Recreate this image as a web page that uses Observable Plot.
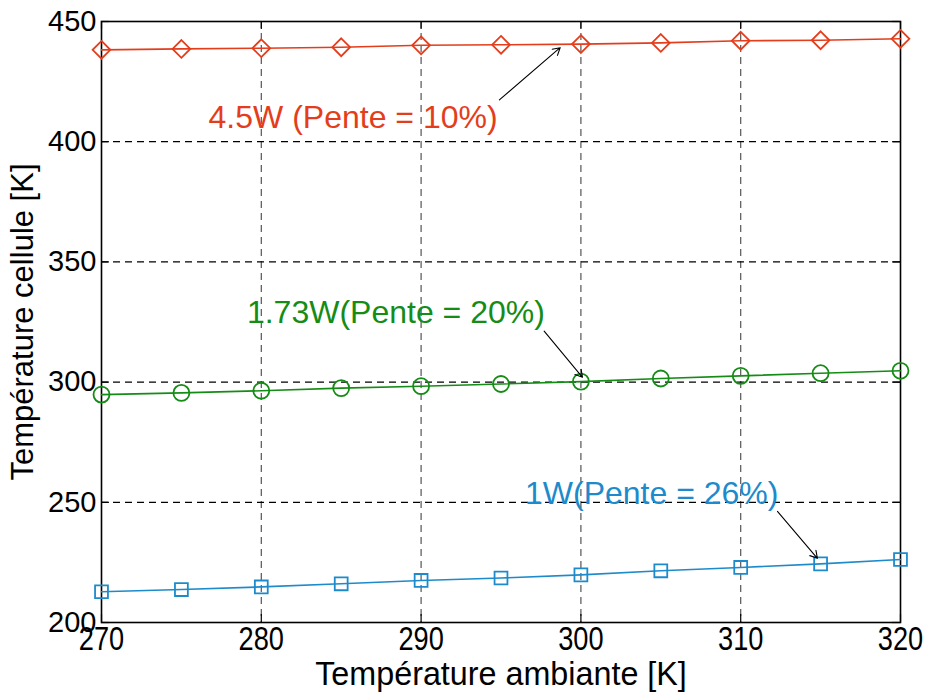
<!DOCTYPE html>
<html>
<head>
<meta charset="utf-8">
<script src="https://cdn.jsdelivr.net/npm/d3@7"></script>
<script src="https://cdn.jsdelivr.net/npm/@observablehq/plot@0.6"></script>
<style>
  html, body { margin: 0; padding: 0; background: white; }
</style>
</head>
<body>
<div id="chart"></div>
<script>
// Data
const tempAmbiante = [270, 275, 280, 285, 290, 295, 300, 305, 310, 315, 320];
const cell45W = [438.2, 438.6, 438.9, 439.3, 440.1, 440.3, 440.6, 441.1, 442.0, 442.2, 442.8];
const cell173W = [294.8, 295.5, 296.4, 297.5, 298.3, 299.2, 300.2, 301.5, 302.6, 303.7, 304.7];
const cell1W = [212.8, 213.7, 214.8, 216.1, 217.5, 218.5, 219.8, 221.5, 222.9, 224.4, 226.2];
const xTicks = [270, 280, 290, 300, 310, 320];
const yTicks = [200, 250, 300, 350, 400, 450];
const annotLabels = ["4.5W (Pente = 10%)", "1.73W(Pente = 20%)", "1W(Pente = 26%)"];
const annotX = [276.7, 279.1, 296.5];
const annotY = [410.1, 329.0, 253.7];
const arrowX1 = [294.9, 297.7, 312.3];
const arrowY1 = [417.4, 321.2, 246.2];
const arrowX2 = [298.7, 300.1, 314.8];
const arrowY2 = [439.1, 302.0, 226.7];

const colors = {"4.5W": "#e43d1c", "1.73W": "#158c15", "1W": "#1d8bcb"};
const symbols = {"4.5W": "diamond2", "1.73W": "circle", "1W": "square2"};
const radii = {"4.5W": 8, "1.73W": 8, "1W": 8.2};

const seriesList = [["4.5W", cell45W], ["1.73W", cell173W], ["1W", cell1W]];
const rows = seriesList.flatMap(([name, vals]) =>
  tempAmbiante.map((t, i) => ({serie: name, x: t, y: vals[i]})));
const annots = annotLabels.map((t, i) => ({text: t, x: annotX[i], y: annotY[i], color: Object.values(colors)[i]}));
const arrows = arrowX1.map((_, i) => ({x1: arrowX1[i], y1: arrowY1[i], x2: arrowX2[i], y2: arrowY2[i]}));

const innerX = xTicks.slice(1, -1);
const innerY = yTicks.slice(1, -1);

const marks = [
  Plot.ruleX(innerX, {x: d => d, stroke: "#555", strokeDasharray: "7,5", strokeWidth: 1.2}),
  Plot.ruleY(innerY, {y: d => d, stroke: "#000", strokeDasharray: "7,5", strokeWidth: 1.2}),
  // inward ticks
  Plot.ruleY(yTicks, {y: d => d, x1: 270, x2: 270.5, stroke: "black", strokeWidth: 1.2}),
  Plot.ruleY(yTicks, {y: d => d, x1: 319.5, x2: 320, stroke: "black", strokeWidth: 1.2}),
  Plot.ruleX(xTicks, {x: d => d, y1: 200, y2: 203.3, stroke: "black", strokeWidth: 1.2}),
  Plot.ruleX(xTicks, {x: d => d, y1: 446.7, y2: 450, stroke: "black", strokeWidth: 1.2}),
  Plot.frame({stroke: "black", strokeWidth: 1.6}),
  Plot.axisX({ticks: xTicks, tickSize: 0, tickPadding: 3, label: null, fontSize: 34}),
  Plot.axisX({ticks: [], tickSize: 0, label: "Température ambiante [K]",
    labelAnchor: "center", labelOffset: 62, labelArrow: "none", fontSize: 34}),
  Plot.axisY({ticks: yTicks, tickSize: 0, tickPadding: 5, label: null, fontSize: 29}),
  Plot.axisY({ticks: [], tickSize: 0, label: "Température cellule [K]",
    labelAnchor: "center", labelOffset: 91, labelArrow: "none", fontSize: 31}),
];
for (const [name] of seriesList) {
  const data = rows.filter(d => d.serie === name);
  marks.push(Plot.line(data, {x: "x", y: "y", stroke: colors[name], strokeWidth: 1.6}));
  marks.push(Plot.dot(data, {x: "x", y: "y", stroke: colors[name], symbol: symbols[name], r: radii[name], strokeWidth: 1.8, fill: "none"}));
}
marks.push(Plot.text(annots, {x: "x", y: "y", text: "text", fill: "color", textAnchor: "start", fontSize: 32}));
marks.push(Plot.arrow(arrows, {x1: "x1", y1: "y1", x2: "x2", y2: "y2", stroke: "black", strokeWidth: 1.1, headLength: 11}));

const chart = Plot.plot({
  width: 928, height: 692,
  marginLeft: 101, marginRight: 28, marginTop: 21, marginBottom: 70,
  x: {domain: [270, 320]},
  y: {domain: [200, 450]},
  style: {fontFamily: "'Liberation Sans', Arial, sans-serif", fontSize: "27px", color: "black", background: "white", overflow: "visible"},
  marks
});
document.getElementById("chart").appendChild(chart);

// condense x tick labels & x label like the reference
d3.select(chart).selectAll('g[aria-label="x-axis tick label"] text').each(function() {
  const len = this.getComputedTextLength();
  this.setAttribute("textLength", (len * 0.8).toFixed(1));
  this.setAttribute("lengthAdjust", "spacingAndGlyphs");
});
d3.select(chart).selectAll('g[aria-label="x-axis label"] text').each(function() {
  const len = this.getComputedTextLength();
  this.setAttribute("textLength", (len * 0.95).toFixed(1));
  this.setAttribute("lengthAdjust", "spacingAndGlyphs");
});
</script>
</body>
</html>
